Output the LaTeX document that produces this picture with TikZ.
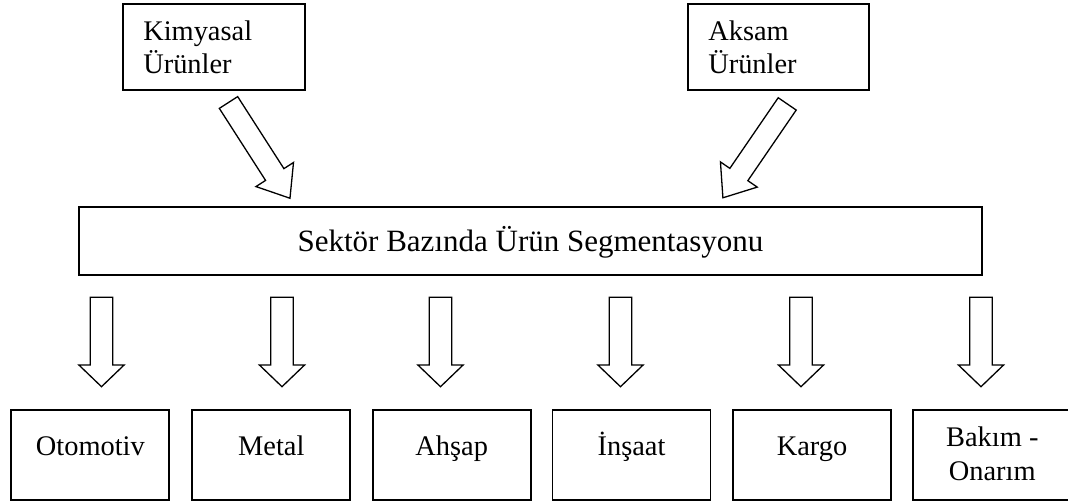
\documentclass[tikz,border=0pt]{standalone}
\usepackage{fontspec}
\setmainfont{Liberation Serif}
\usetikzlibrary{calc}

\tikzset{
  x=1pt, y=1pt,
  box/.style={draw, line width=1.8pt, inner sep=0pt},
  sourcebox/.style={box, minimum height=86pt, inner xsep=20pt,
    font=\fontsize{28.4}{32.6}\selectfont, text height=5pt, text depth=17.6pt},
  mainbox/.style={box, minimum width=903pt, minimum height=68pt,
    font=\fontsize{31}{36}\selectfont, text height=25pt, text depth=3.6pt},
  sectorbox/.style={box, minimum width=158pt, minimum height=90pt,
    font=\fontsize{28.4}{33.3}\selectfont, text height=8pt, text depth=8pt},
  arrowline/.style={draw, fill=white, line width=1.3pt, line join=miter},
  % hollow block arrow pointing straight down, origin at the tail
  downarrow/.pic={
    \path[arrowline] (-11.25,0) -- (11.25,0) -- (11.25,-67.7) -- (22.6,-67.7)
      -- (0,-89.4) -- (-22.6,-67.7) -- (-11.25,-67.7) -- cycle;
  },
  % hollow block arrow along +x, origin at the tail (rotated when placed)
  slantarrow/.pic={
    \path[arrowline] (0,10.9) -- (85.6,10.9) -- (85.6,22.3) -- (113.8,0)
      -- (85.6,-22.3) -- (85.6,-10.9) -- (0,-10.9) -- cycle;
  }
}

\begin{document}
\begin{tikzpicture}
\useasboundingbox (0,0) rectangle (1068,501);

% source product groups
\node[sourcebox, minimum width=181.4pt] (kimyasal) at (214,454)
  {\parbox[t]{141.4pt}{Kimyasal\\Ürünler}};
\node[sourcebox, minimum width=180.4pt] (aksam) at (778.5,454)
  {\parbox[t]{140.4pt}{Aksam\\Ürünler}};

% sector based segmentation
\node[mainbox] (segment) at (530.5,260) {Sektör Bazında Ürün Segmentasyonu};

% sectors
\node[sectorbox] (otomotiv) at (90.35,46) {Otomotiv};
\node[sectorbox] (metal)    at (271.35,46) {Metal};
\node[sectorbox] (ahsap)    at (451.7,46) {Ahşap};
\node[sectorbox] (insaat)   at (631.55,46) {İnşaat};
\node[sectorbox] (kargo)    at (812,46) {Kargo};
\node[sectorbox, text height=5pt, text depth=21.6pt] (bakim) at (992.3,46)
  {\parbox[t]{158pt}{\centering Bakım -\\Onarım}};

% arrows from the source groups into the segmentation
\pic[rotate=-57.3]  at (228.5,398.5) {slantarrow};
\pic[rotate=-124.4] at (787.2,397.1) {slantarrow};

% arrows from the segmentation down to each sector
\foreach \ax in {101.5, 282, 440.5, 620.5, 801, 981}
  \pic at (\ax,203.7) {downarrow};
\end{tikzpicture}
\end{document}
